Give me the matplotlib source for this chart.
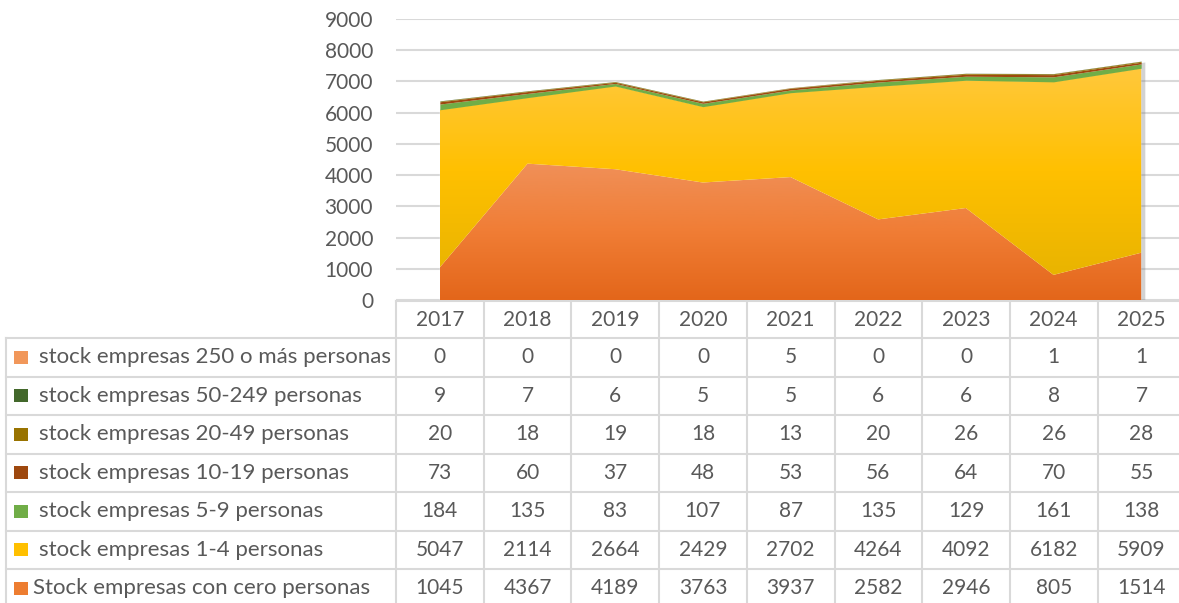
import numpy as np
import matplotlib.pyplot as plt
import matplotlib.patheffects as pe
from matplotlib.colors import LinearSegmentedColormap

plt.rcParams['font.family'] = ['Lato', 'DejaVu Sans']

# Data
years = ['2017', '2018', '2019', '2020', '2021', '2022', '2023', '2024', '2025']
series_names = [
    'stock empresas 250 o más personas',
    'stock empresas 50-249 personas',
    'stock empresas 20-49 personas',
    'stock empresas 10-19 personas',
    'stock empresas 5-9 personas',
    'stock empresas 1-4 personas',
    'Stock empresas con cero personas',
]
s250 = [0, 0, 0, 0, 5, 0, 0, 1, 1]
s50_249 = [9, 7, 6, 5, 5, 6, 6, 8, 7]
s20_49 = [20, 18, 19, 18, 13, 20, 26, 26, 28]
s10_19 = [73, 60, 37, 48, 53, 56, 64, 70, 55]
s5_9 = [184, 135, 83, 107, 87, 135, 129, 161, 138]
s1_4 = [5047, 2114, 2664, 2429, 2702, 4264, 4092, 6182, 5909]
s0 = [1045, 4367, 4189, 3763, 3937, 2582, 2946, 805, 1514]

# table order (top to bottom)
table_values = [s250, s50_249, s20_49, s10_19, s5_9, s1_4, s0]
colors = ['#F1975A', '#43682B', '#997300', '#9E480E', '#70AD47', '#FFC000', '#ED7D31']
gradients = {
    5: ['#E9B400', '#FFC000', '#FFC83C'],
    6: ['#E3661A', '#F07D35', '#F09058'],
}

W, H = 1179, 603
fig = plt.figure(figsize=(W / 100, H / 100), dpi=100)


def px(x0, y0, x1, y1):
    return [x0 / W, 1 - y1 / H, (x1 - x0) / W, (y1 - y0) / H]


txt = '#595959'
grid = '#D9D9D9'
fs = 15
fs_lab = 16

# Chart
ax = fig.add_axes(px(396, 19, 1185, 300))
x = np.arange(len(years))
total = np.sum(np.array(table_values, dtype=float), axis=0)

# soft shadow behind the whole stack
ax.fill_between(x, 0, total, color='white', lw=0, zorder=2,
                path_effects=[pe.SimplePatchShadow(offset=(3, -1), shadow_rgbFace='#808080', alpha=0.35),
                              pe.Normal()])

bottom = np.zeros(len(years))
for i in reversed(range(len(table_values))):
    vals = np.array(table_values[i], dtype=float)
    top = bottom + vals
    poly = ax.fill_between(x, bottom, top, color=colors[i], lw=0, zorder=3)
    if i in gradients:
        poly.set_facecolor('none')
        cmap = LinearSegmentedColormap.from_list('g%d' % i, gradients[i])
        grad = np.linspace(0, 1, 256).reshape(-1, 1)
        im = ax.imshow(grad, extent=[x[0], x[-1], bottom.min(), top.max()],
                       aspect='auto', cmap=cmap, origin='lower', zorder=3)
        im.set_clip_path(poly.get_paths()[0], transform=ax.transData)
    bottom = top

ax.set_xlim(-0.5, len(years) - 0.5)
ax.set_ylim(0, 9000)
ax.set_yticks(range(0, 9001, 1000))
ax.set_xticks([])
ax.tick_params(axis='y', length=0, pad=16.5, labelsize=fs, labelcolor=txt)
ax.grid(axis='y', color=grid, lw=1.5, zorder=0)
for s in ax.spines.values():
    s.set_visible(False)

# Data table
tb = fig.add_axes([0, 0, 1, 1], zorder=-1)
tb.set_xlim(0, W)
tb.set_ylim(H, 0)
tb.axis('off')

col_l, col_w = 396, 87.7
lab_l = 6
head_t, head_b = 301, 338
row_h = 38.5
n_rows = len(series_names)
bottom_y = head_b + row_h * n_rows
lw = 1.5

# header row
tb.plot([col_l, W + 10], [head_t, head_t], color=grid, lw=lw)
for j in range(len(years) + 1):
    xx = col_l + j * col_w
    tb.plot([xx, xx], [head_t, bottom_y], color=grid, lw=lw)
for j, yr in enumerate(years):
    tb.text(col_l + (j + 0.5) * col_w, (head_t + head_b) / 2, yr,
            ha='center', va='center', fontsize=fs, color=txt)

# body rows
tb.plot([lab_l, lab_l], [head_b, bottom_y], color=grid, lw=lw)
for r in range(n_rows + 1):
    yy = head_b + r * row_h
    tb.plot([lab_l, W + 10], [yy, yy], color=grid, lw=lw)

for r, (name, vals, c) in enumerate(zip(series_names, table_values, colors)):
    cy = head_b + (r + 0.5) * row_h
    tb.add_patch(plt.Rectangle((14, cy - 6.5), 14, 13, color=c, lw=0))
    tx = 33 if name.startswith('Stock') else 39
    tb.text(tx, cy, name, ha='left', va='center', fontsize=fs_lab, color=txt)
    for j, v in enumerate(vals):
        tb.text(col_l + (j + 0.5) * col_w, cy, str(v),
                ha='center', va='center', fontsize=fs, color=txt)

fig.savefig('out.png', dpi=100)
